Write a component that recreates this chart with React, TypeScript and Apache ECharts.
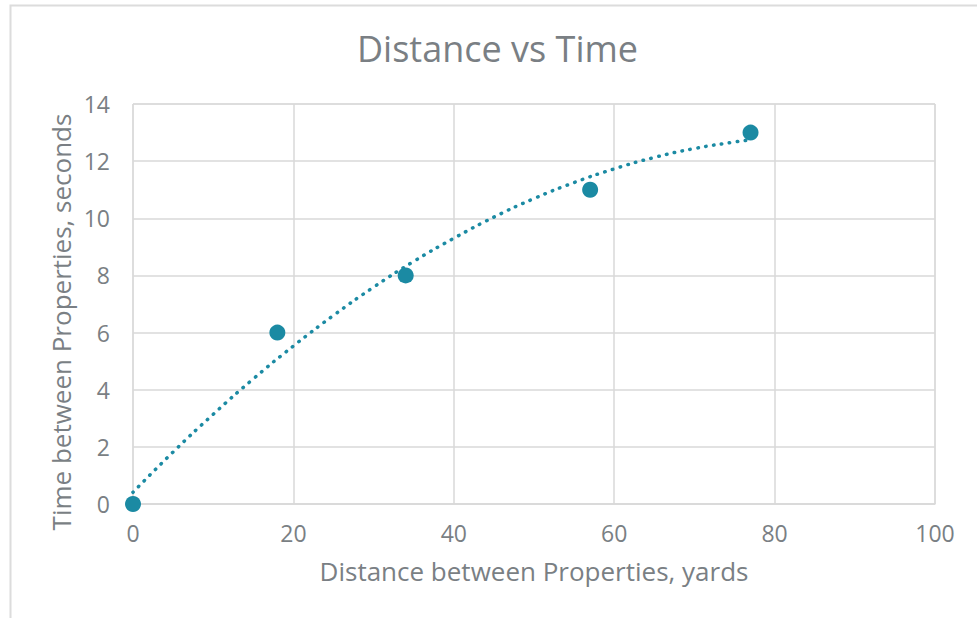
import React, { useEffect, useRef } from "react";
import * as echarts from "echarts";

const distances = [0, 18, 34, 57, 77];
const times = [0, 6, 8, 11, 13];
// dotted trendline
const trendX = [0, 5, 10, 15, 20, 25, 30, 35, 40, 45, 50, 55, 60, 65, 70, 75, 77];
const trendY = [0.41, 1.82, 3.14, 4.38, 5.53, 6.6, 7.59, 8.49, 9.3, 10.04, 10.69, 11.25, 11.73, 12.13, 12.44, 12.67, 12.74];

const TITLE = "Distance vs Time";
const X_NAME = "Distance between Properties, yards";
const Y_NAME = "Time between Properties, seconds";

const TEXT = "#7a7f84";
const GRID = "#d9d9d9";
const TEAL = "#1b8aa3";
const FONT = "'Open Sans', Lato, sans-serif";

export default function App() {
  const ref = useRef<HTMLDivElement>(null);
  useEffect(() => {
    if (!ref.current) return;
    const chart = echarts.init(ref.current, undefined, { renderer: "svg" });
    chart.setOption({
      animation: false,
      textStyle: { fontFamily: FONT },
      title: {
        text: TITLE,
        left: 357,
        top: 30,
        padding: 0,
        textStyle: { color: TEXT, fontSize: 36, fontWeight: "normal", fontFamily: FONT },
      },
      graphic: [
        {
          type: "rect",
          shape: { x: 10.5, y: 5.5, width: 1000, height: 1000 },
          style: { fill: "none", stroke: "#dcdcdc", lineWidth: 2 },
          silent: true,
        },
        {
          type: "text",
          x: 61,
          y: 322,
          rotation: Math.PI / 2,
          style: {
            text: Y_NAME,
            fill: TEXT,
            fontSize: 26,
            fontFamily: FONT,
            align: "center",
            verticalAlign: "middle",
          },
          silent: true,
        },
      ],
      grid: { left: 133, right: 42, top: 104, bottom: 114, show: true, borderColor: GRID, borderWidth: 1 },
      xAxis: {
        type: "value",
        min: 0,
        max: 100,
        interval: 20,
        name: X_NAME,
        nameLocation: "middle",
        nameGap: 54,
        nameTextStyle: { color: TEXT, fontSize: 26, fontFamily: FONT },
        axisLine: { show: true, lineStyle: { color: GRID, width: 1.5 } },
        axisTick: { show: false },
        axisLabel: { color: TEXT, fontSize: 23, margin: 17, fontFamily: FONT },
        splitLine: { show: true, lineStyle: { color: GRID, width: 1.5 } },
      },
      yAxis: {
        type: "value",
        min: 0,
        max: 14,
        interval: 2,
        axisLine: { show: false },
        axisTick: { show: false },
        axisLabel: { color: TEXT, fontSize: 23, margin: 23, fontFamily: FONT },
        splitLine: { show: true, lineStyle: { color: GRID, width: 1.5 } },
      },
      series: [
        {
          type: "line",
          data: trendX.map((x, i) => [x, trendY[i]]),
          smooth: true,
          showSymbol: false,
          symbol: "none",
          lineStyle: { color: TEAL, width: 3.5, type: [0.5, 7.5], cap: "round" },
          z: 2,
        },
        {
          type: "scatter",
          data: distances.map((x, i) => [x, times[i]]),
          symbol: "circle",
          symbolSize: 16,
          itemStyle: { color: TEAL, opacity: 1 },
          z: 3,
        },
      ],
    });
    return () => chart.dispose();
  }, []);
  return (
    <div style={{ position: "fixed", left: 0, top: 0, width: 977, height: 618, background: "#fff", overflow: "hidden" }}>
      <div ref={ref} style={{ width: 977, height: 618 }} />
    </div>
  );
}
